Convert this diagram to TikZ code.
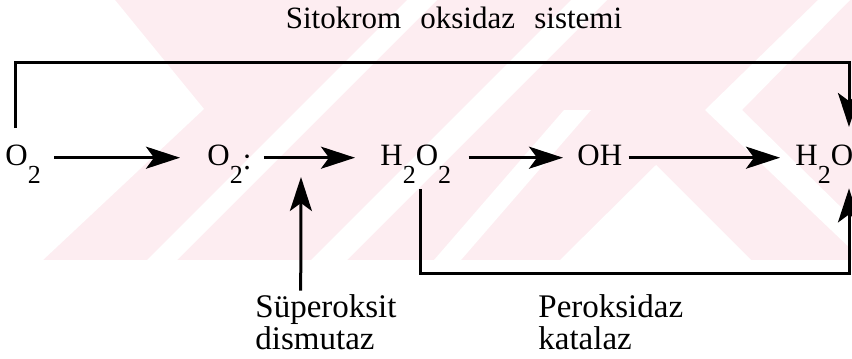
\documentclass[tikz,border=0pt]{standalone}
\usepackage{fontspec}
\setmainfont{Liberation Serif}
\usetikzlibrary{arrows.meta}

\definecolor{filigran}{RGB}{253,237,241}
\newcommand{\subn}[1]{\raisebox{-9pt}[0pt][0pt]{\fontsize{13pt}{13pt}\selectfont #1}}

\tikzset{
  chem/.style={inner sep=0pt, anchor=base west, text height=7.3pt, text depth=0pt,
    font=\fontsize{15.5pt}{18pt}\selectfont},
  enzyme/.style={inner sep=0pt, anchor=base west, align=left,
    font=\fontsize{16.5pt}{16pt}\selectfont},
  flow/.style={line width=1.5pt, -{Stealth[length=17pt, width=11pt, inset=4pt]}}
}

\begin{document}
\begin{tikzpicture}[x=0.5pt, y=-0.5pt]
    \useasboundingbox (0,0) rectangle (852,359);

    % filigran
    \fill[filigran] (0,0) rectangle (852,260);
    \fill[white] (0,0) -- (115,0) -- (204,109) -- (43,260) -- (0,260) -- cycle;
    \fill[white] (147,260) -- (177,260) -- (437,0) -- (407,0) -- cycle;
    \fill[white] (311,260) -- (347,260) -- (607,0) -- (571,0) -- cycle;
    \fill[white] (434,260) -- (461,260) -- (591,110) -- (564,110) -- cycle;
    \fill[white] (656,165) -- (751,260) -- (560,260) -- cycle;
    \fill[white] (818,0) -- (850,0) -- (742,110) -- (852,218) -- (852,250) -- (705,110) -- cycle;

    % başlık
    \node[chem, anchor=base] (title) at (454,28)
        {Sitokrom\hspace{0.62em}oksidaz\hspace{0.62em}sistemi};

    % ana zincir
    \node[chem] (o2a) at (5,165) {O\subn{2}};
    \node[chem] (o2b) at (207,165) {O\subn{2}\raisebox{-2pt}{:}};
    \node[chem] (h2o2) at (380,165) {H\subn{2}O\subn{2}};
    \node[chem] (oh) at (577,165) {OH};
    \node[chem] (h2o) at (795,165) {H\subn{2}O};

    \draw[flow] ([xshift=6.5pt]o2a.east) -- ([xshift=-13.5pt]o2b.west);
    \draw[flow] ([xshift=6pt]o2b.east) -- ([xshift=-12.5pt]h2o2.west);
    \draw[flow] ([xshift=8.5pt]h2o2.east) -- ([xshift=-7pt]oh.west);
    \draw[flow] ([xshift=3pt]oh.east) -- ([xshift=-7.5pt]h2o.west);

    % enzimler
    \node[enzyme] (sod) at (255,349) {Süperoksit\\dismutaz};
    \node[enzyme] (prx) at (538,349) {Peroksidaz\\katalaz};

    \coordinate (sodtip) at (301,177);
    \draw[flow] ([shift={(22.85pt,1.5pt)}]sod.north west) -- (sodtip);

    % üst ve alt yollar
    \coordinate (top) at (430,62);
    \coordinate (bot) at (630,273);
    \draw[flow]
        ([shift={(5pt,11pt)}]o2a.north west) |- (top)
        -| ([shift={(27pt,11.5pt)}]h2o.north west);
    \draw[flow]
        ([shift={(20.3pt,-12pt)}]h2o2.south west) |- (bot)
        -| ([shift={(27pt,-11.5pt)}]h2o.south west);
\end{tikzpicture}
\end{document}
